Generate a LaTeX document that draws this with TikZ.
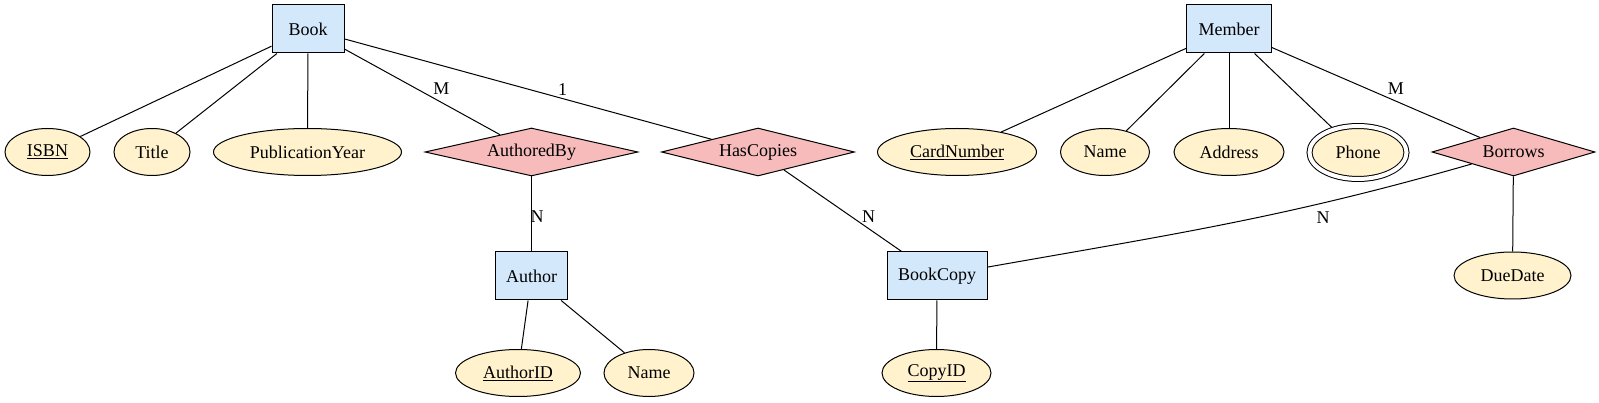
\documentclass[tikz,border=0pt]{standalone}
\usepackage{fontspec}
\setmainfont{Liberation Serif}
\usetikzlibrary{shapes.geometric}
\definecolor{entblue}{RGB}{212,232,252}
\definecolor{relpink}{RGB}{247,187,187}
\definecolor{attrcream}{RGB}{255,242,204}

\begin{document}
\begin{tikzpicture}[x=1pt, y=-1pt, line width=1pt,
  every node/.style={font=\fontsize{18}{22}\selectfont, inner sep=0pt},
  entity/.style={draw, fill=entblue, minimum height=48pt},
  relation/.style={draw, diamond, aspect=4.4, fill=relpink, minimum height=48pt},
  attrib/.style={draw, ellipse, fill=attrcream, minimum height=47pt},
  multi/.style={attrib, double=white, double distance=4pt, outer sep=2.5pt}]
\useasboundingbox (0,0) rectangle (1599,403);

\node[entity, minimum width=72pt] (book) at (308,29) {Book};
\node[entity, minimum width=85pt] (member) at (1229,29) {Member};
\node[entity, minimum width=72pt] (author) at (531.5,276) {Author};
\node[entity, minimum width=100pt] (bookcopy) at (937,276) {BookCopy};

\node[attrib, minimum width=85pt] (isbn) at (47.5,152) {\underline{ISBN}};
\node[attrib, minimum width=76pt] (title) at (152,152) {Title};
\node[attrib, minimum width=188pt] (pubyear) at (307.5,152) {PublicationYear};
\node[relation, minimum width=213pt] (authoredby) at (531.5,152) {AuthoredBy};
\node[relation, minimum width=193pt] (hascopies) at (758,152) {HasCopies};
\node[attrib, minimum width=159pt] (cardno) at (957,152) {\underline{CardNumber}};
\node[attrib, minimum width=89pt] (mname) at (1105,152) {Name};
\node[attrib, minimum width=110pt] (address) at (1229,152) {Address};
\node[multi, minimum width=97pt, minimum height=53pt] (phone) at (1358,152.5) {Phone};
\node[relation, minimum width=163pt] (borrows) at (1513.5,152) {Borrows};
\node[attrib, minimum width=117pt] (duedate) at (1512.5,275.5) {DueDate};
\node[attrib, minimum width=125pt] (authorid) at (518,373) {\underline{AuthorID}};
\node[attrib, minimum width=90pt] (aname) at (649,373) {Name};
\node[attrib, minimum width=109pt] (copyid) at (936.5,373) {\underline{CopyID}};

\draw (book) -- (isbn);
\draw (book) -- (title);
\draw (book) -- (pubyear);
\draw (book) -- node[pos=0.5, xshift=19pt, yshift=3pt] (mbook) {M} (authoredby);
\draw (book) -- node[pos=0.6, xshift=-2pt, yshift=10pt] (onebook) {1} (hascopies);
\draw (authoredby) -- node[pos=0.5, xshift=5.5pt, yshift=-3pt] (nauthor) {N} (author);
\draw (hascopies) -- node[pos=0.72, yshift=12pt] (ncopy) {N} (bookcopy);
\draw (author) -- (authorid);
\draw (author) -- (aname);
\draw (bookcopy) -- (copyid);
\draw (member) -- (cardno);
\draw (member) -- (mname);
\draw (member) -- (address);
\draw (member) -- (phone);
\draw (member) -- node[pos=0.6, xshift=-1pt, yshift=12.5pt] (mmember) {M} (borrows);
\draw (borrows) to[out=196, in=10] node[pos=0.3, xshift=2pt, yshift=-14pt] (nborrow) {N} (bookcopy);
\draw (borrows) -- (duedate);
\end{tikzpicture}
\end{document}
